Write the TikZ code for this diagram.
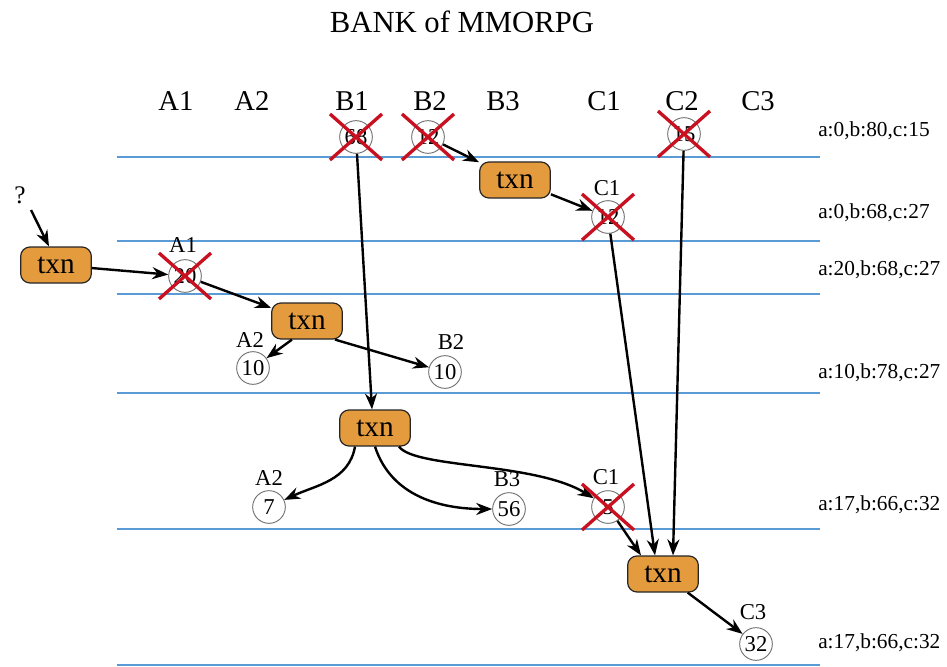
\documentclass[tikz,border=0pt]{standalone}
\usepackage{fontspec}
\setmainfont{Liberation Serif}
\usetikzlibrary{arrows.meta,calc}
\definecolor{txnorange}{RGB}{228,155,62}
\definecolor{laneblue}{RGB}{91,155,213}
\definecolor{crossred}{RGB}{200,16,32}
\newcommand{\fsz}[1]{\fontsize{#1}{#1}\selectfont}
\newcommand{\mycross}[1]{%
  \draw[xout] ($(#1)+(-26,-23)$) -- ($(#1)+(26,23)$);
  \draw[xout] ($(#1)+(-26,23)$) -- ($(#1)+(26,-23)$);}
\begin{document}
\begin{tikzpicture}[x=0.75pt,y=-0.75pt,
 txn/.style={draw=black!85, fill=txnorange, rounded corners=7pt, minimum width=53pt, minimum height=27pt, inner sep=0pt, line width=0.9pt, font=\fsz{22}},
 val/.style={circle, draw=black!55, fill=white, minimum size=24.5pt, inner sep=0pt, line width=0.7pt, font=\fsz{17}},
 lbl/.style={font=\fsz{17}, inner sep=0pt},
 col/.style={font=\fsz{21.5}, inner sep=0pt},
 bal/.style={font=\fsz{16}, anchor=west, inner sep=0pt},
 lane/.style={draw=laneblue, line width=1.1pt},
 arr/.style={-{Stealth[length=12pt,width=9pt]}, line width=1.8pt},
 xout/.style={draw=crossred, line width=2.5pt}
]
\useasboundingbox (0,0) rectangle (947,667);

% title
\node[font=\fsz{23}] (title) at (462,22) {BANK of MMORPG};

% column headers
\node[col] (hA1) at (176,101) {A1};
\node[col] (hA2) at (252,101) {A2};
\node[col] (hB1) at (352,101) {B1};
\node[col] (hB2) at (430,101) {B2};
\node[col] (hB3) at (503,101) {B3};
\node[col] (hC1) at (604,101) {C1};
\node[col] (hC2) at (682,101) {C2};
\node[col] (hC3) at (758,101) {C3};

% lanes
\foreach \yy in {157,241,294,393,529,665}
  \draw[lane] (117,\yy) -- (820,\yy);

% balances
\node[bal] (s0) at (818,131) {a:0,b:80,c:15};
\node[bal] (s1) at (818,213) {a:0,b:68,c:27};
\node[bal] (s2) at (818,270) {a:20,b:68,c:27};
\node[bal] (s3) at (818,373) {a:10,b:78,c:27};
\node[bal] (s4) at (818,505) {a:17,b:66,c:32};
\node[bal] (s5) at (818,643) {a:17,b:66,c:32};

% values
\node[val] (b1) at (356,137) {68};
\node[val] (b2) at (428,137) {12};
\node[val] (c2) at (684,134) {15};
\node[val] (c1a) at (608,217) {12};
\node[lbl] (lc1a) at (607,188) {C1};
\node[val] (a1) at (185,276) {20};
\node[lbl] (la1) at (183,245) {A1};
\node[val] (a2a) at (253,368) {10};
\node[lbl] (la2a) at (250,340) {A2};
\node[val] (b2a) at (445,372) {10};
\node[lbl] (lb2a) at (451,342) {B2};
\node[val] (a2b) at (269,507) {7};
\node[lbl] (la2b) at (269,478) {A2};
\node[val] (b3) at (509,509) {56};
\node[lbl] (lb3) at (507,479) {B3};
\node[val] (c1b) at (608,507) {5};
\node[lbl] (lc1b) at (606,477) {C1};
\node[val] (c3) at (756,644) {32};
\node[lbl] (lc3) at (753,612) {C3};

% transactions
\node[txn] (t1) at (515,180) {txn};
\node[txn] (t2) at (56,265) {txn};
\node[txn] (t3) at (307,321) {txn};
\node[txn] (t4) at (375,428) {txn};
\node[txn] (t5) at (663,574) {txn};

\node[font=\fsz{19}, inner sep=0pt] (q) at (20,195) {?};
\coordinate (qs) at (31,210);

% connectors
\draw[arr] (b2) -- (t1);
\draw[arr] (t1) -- (c1a);
\draw[arr] (qs) -- ($(t2.north)+(-7,0)$);
\draw[arr] (t2) -- (a1);
\draw[arr] (a1) -- (t3);
\draw[arr] ($(t3.south)+(-15,0)$) -- (a2a);
\draw[arr] ($(t3.south)+(28,0)$) -- (b2a);
\draw[arr] (b1) -- ($(t4.north)+(-3,0)$);
\draw[arr] ($(t4.south)+(-20,0)$) to[out=-100,in=25] (a2b);
\draw[arr] ($(t4.south)+(0,0)$) to[out=-72,in=180] (b3);
\draw[arr] ($(t4.south)+(24,0)$) .. controls +(16,22) and +(-73,-45) .. (c1b);
\draw[arr] (c1a) -- ($(t5.north)+(-8,0)$);
\draw[arr] (c2) -- ($(t5.north)+(10,0)$);
\draw[arr] (c1b) -- ($(t5.north)+(-22,0)$);
\draw[arr] (t5) -- (c3);

% crosses
\mycross{b1}
\mycross{b2}
\mycross{c2}
\mycross{c1a}
\mycross{a1}
\mycross{c1b}
\end{tikzpicture}
\end{document}
